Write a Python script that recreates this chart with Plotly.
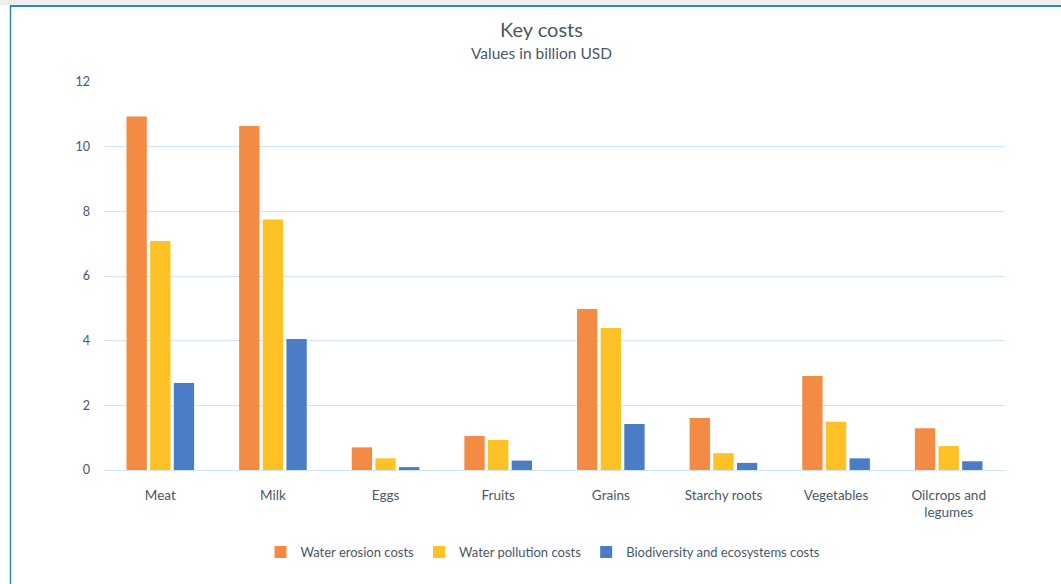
import plotly.graph_objects as go

categories = ["Meat", "Milk", "Eggs", "Fruits", "Grains", "Starchy roots", "Vegetables", "Oilcrops and<br>legumes"]
water_erosion = [10.93, 10.64, 0.70, 1.05, 4.98, 1.61, 2.91, 1.29]
water_pollution = [7.08, 7.75, 0.36, 0.93, 4.39, 0.52, 1.49, 0.74]
biodiversity = [2.69, 4.05, 0.09, 0.29, 1.42, 0.22, 0.36, 0.27]
series_names = ["Water erosion costs", "Water pollution costs", "Biodiversity and ecosystems costs"]
y_ticks = [0, 2, 4, 6, 8, 10, 12]
title_text = "Key costs"
subtitle_text = "Values in billion USD"

colors = ["#F38B45", "#FEC126", "#4A7DC6"]
text_color = "#4A5866"
FONT = "Lato, Open Sans, sans-serif"

fig = go.Figure()
for name, vals, c in zip(series_names, [water_erosion, water_pollution, biodiversity], colors):
    fig.add_trace(go.Bar(x=categories, y=vals, name=name, marker=dict(color=c, line=dict(width=0))))

W, H = 1061, 584
ml, mr, mt, mb = 104, 56, 82, 114
pw, ph = W - ml - mr, H - mt - mb

def px2x(px):
    return (px - ml) / pw

def py2y(py):
    return (H - mb - py) / ph

fig.update_layout(
    width=W, height=H,
    margin=dict(l=ml, r=mr, t=mt, b=mb),
    paper_bgcolor="white", plot_bgcolor="white",
    barmode="group", bargap=0.37, bargroupgap=0.14,
    font=dict(family=FONT, color=text_color, size=12),
    xaxis=dict(showgrid=False, showline=False, ticks="", zeroline=False,
               tickfont=dict(size=13.5, color=text_color), ticklabelstandoff=15),
    yaxis=dict(range=[0, 12], tickvals=y_ticks, showgrid=True, gridcolor="#D0E5F4", gridwidth=1,
               zeroline=True, zerolinecolor="#D0E5F4", zerolinewidth=1,
               showline=False, ticks="", tickfont=dict(size=12.5, color=text_color),
               ticklabelstandoff=13),
    legend=dict(orientation="h", x=px2x(543), xanchor="center", y=py2y(552), yanchor="middle",
                font=dict(size=13, color=text_color), itemwidth=30, traceorder="normal",
                bgcolor="rgba(0,0,0,0)"),
    annotations=[
        dict(text=title_text, xref="paper", yref="paper", x=px2x(541), y=py2y(29),
             xanchor="center", yanchor="middle", showarrow=False,
             font=dict(size=20, color=text_color, family=FONT)),
        dict(text=subtitle_text, xref="paper", yref="paper", x=px2x(541), y=py2y(53),
             xanchor="center", yanchor="middle", showarrow=False,
             font=dict(size=15.5, color=text_color, family=FONT)),
    ],
    shapes=[
        dict(type="rect", xref="paper", yref="paper", x0=px2x(0), x1=px2x(W), y0=py2y(5), y1=py2y(0),
             fillcolor="#EEEEEE", line=dict(width=0), layer="below"),
        dict(type="line", xref="paper", yref="paper", x0=px2x(10), x1=px2x(W), y0=py2y(6), y1=py2y(6),
             line=dict(color="#2E86B5", width=2)),
        dict(type="line", xref="paper", yref="paper", x0=px2x(10.5), x1=px2x(10.5), y0=py2y(6), y1=py2y(H),
             line=dict(color="#2E86B5", width=1.5)),
    ],
)

fig.write_html("out.html")
